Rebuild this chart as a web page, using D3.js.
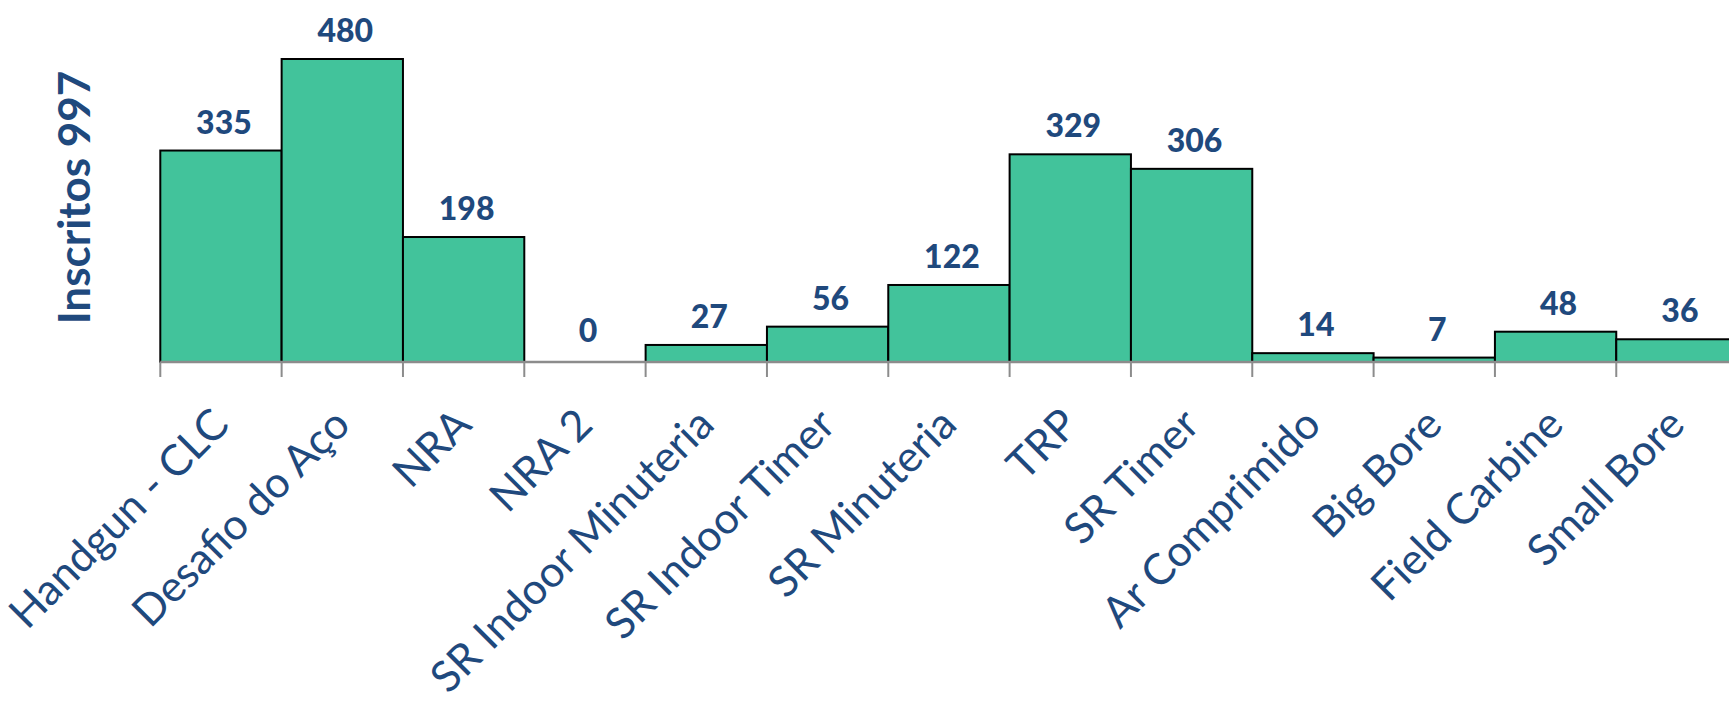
<!DOCTYPE html>
<html>
<head>
<meta charset="utf-8">
<script src="https://cdn.jsdelivr.net/npm/d3@7"></script>
<style>
  html, body { margin: 0; padding: 0; background: #fff; overflow: hidden; }
  svg { display: block; }
</style>
</head>
<body>
<div id="chart"></div>
<script>
// categories and counts
var categories = ["Handgun - CLC", "Desafio do Aço", "NRA", "NRA 2", "SR Indoor Minuteria",
	"SR Indoor Timer", "SR Minuteria", "TRP", "SR Timer", "Ar Comprimido",
	"Big Bore", "Field Carbine", "Small Bore"];
var inscritos = [335, 480, 198, 0, 27, 56, 122, 329, 306, 14, 7, 48, 36];
var axisTitle = "Inscritos 997";

var width = 1729,
	height = 701,
	margin = {top: 59, left: 160.3, bottom: 339},
	bandW = 121.33;

var textColor = "#1F497D",
	barColor = "#42C39B";

var data = categories.map(function(c, i) { return {name: c, value: inscritos[i]}; });

var svg = d3.select("#chart").append("svg")
	.attr("width", width)
	.attr("height", height);

var xScale = d3.scaleBand()
		.domain(categories)
		.range([margin.left, margin.left + bandW * categories.length])
		.paddingInner(0).paddingOuter(0),
	yScale = d3.scaleLinear()
		.domain([0, d3.max(inscritos)])
		.range([height - margin.bottom, margin.top]);

var baseY = yScale(0);

// bars
svg.append("g")
	.attr("class", "bars")
	.selectAll("rect")
	.data(data)
	.enter().append("rect")
		.attr("x", function(d) { return xScale(d.name); })
		.attr("y", function(d) { return yScale(d.value); })
		.attr("width", xScale.bandwidth())
		.attr("height", function(d) { return baseY - yScale(d.value); })
		.style("fill", barColor)
		.style("stroke", "#000")
		.style("stroke-width", 2);

// x axis, ticks sit between categories like excel does
var xAxis = d3.axisBottom(xScale).tickSize(15).tickSizeOuter(0);
var gx = svg.append("g")
	.attr("class", "axis axis--x")
	.attr("transform", "translate(0," + baseY + ")")
	.call(xAxis);

gx.select(".domain")
	.attr("d", "M" + xScale.range()[0] + ",0H" + xScale.range()[1])
	.style("stroke", "#8C8C8C")
	.style("stroke-width", 2.5);

gx.selectAll(".tick line")
	.attr("x1", -xScale.bandwidth() / 2)
	.attr("x2", -xScale.bandwidth() / 2)
	.style("stroke", "#8C8C8C")
	.style("stroke-width", 2);

gx.selectAll(".tick text")
	.attr("x", 0).attr("y", 0).attr("dy", null)
	.attr("transform", "translate(10,65) rotate(-45)")
	.style("text-anchor", "end")
	.style("fill", textColor)
	.style("font-family", "Lato, 'Open Sans', sans-serif")
	.style("font-size", "43px");

// value labels above bars
svg.append("g")
	.attr("class", "labels")
	.selectAll("text")
	.data(data)
	.enter().append("text")
		.attr("x", function(d) { return xScale(d.name) + xScale.bandwidth() / 2 + 3; })
		.attr("y", function(d) { return Math.min(yScale(d.value) - 17, baseY - 20); })
		.style("text-anchor", "middle")
		.style("fill", textColor)
		.style("font-family", "Lato, 'Open Sans', sans-serif")
		.style("font-weight", "900")
		.style("font-size", "32px")
		.text(function(d) { return d.value; });

// axis title
svg.append("text")
	.attr("transform", "translate(90,197.5) rotate(-90)")
	.style("text-anchor", "middle")
	.style("fill", textColor)
	.style("font-family", "Lato, 'Open Sans', sans-serif")
	.style("font-weight", "bold")
	.style("font-size", "44px")
	.text(axisTitle);
</script>
</body>
</html>
